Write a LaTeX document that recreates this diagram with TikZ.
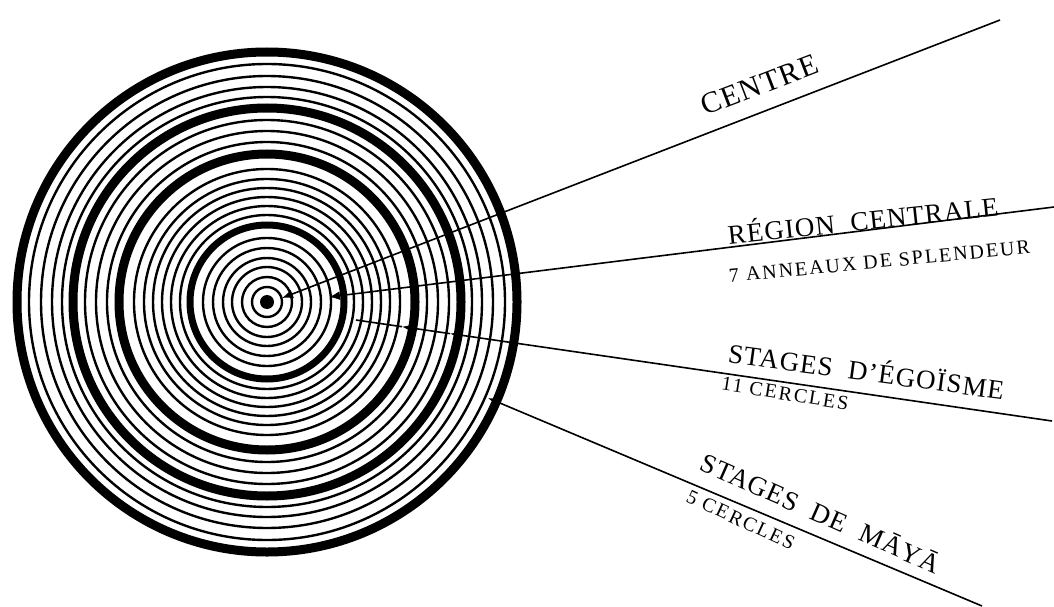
\documentclass[tikz,border=0pt]{standalone}
\usepackage{fontspec}
\setmainfont{Liberation Serif}
\usetikzlibrary{positioning,arrows.meta}
\tikzset{ring/.style={line width=2.4pt},heavy/.style={line width=9pt},lead/.style={line width=1.6pt},
 pointer/.style={lead,{Latex[length=11pt,width=9pt]}-},
 big/.style={font=\fontsize{#1}{#1}\selectfont\addfontfeatures{LetterSpace=4},inner sep=0pt,anchor=base},big/.default=27,
 small/.style={font=\fontsize{20}{20}\selectfont\addfontfeatures{LetterSpace=10},inner sep=0pt,anchor=base}}

\begin{document}
\begin{tikzpicture}[x=1pt,y=-1pt]
\useasboundingbox (0,0) rectangle (1054,607);
\coordinate (o) at (267,302);
% the rings
\foreach \r in {15,25,35,44,54,64,87,96,105,114,123,133,160,171,182,205,215,226,238}
  \draw[ring] (o) circle (\r);
\draw[heavy,line width=7pt] (o) circle (77);
\foreach \r in {148,194,250} \draw[heavy] (o) circle (\r);
\fill (o) circle (7);
% pointers
\coordinate (tc) at (282,298);\coordinate (ec) at (1000,20);
\coordinate (tr) at (329,297);\coordinate (er) at (1054,207);
\coordinate (e0) at (356,320);\coordinate (e1) at (402,326.7);\coordinate (e2) at (450,333.6);\coordinate (ee) at (1052,421);
\coordinate (tm) at (488,398);\coordinate (em) at (982,606);
\draw[pointer] (tc)--(ec);
\draw[pointer] (tr)--(er);
\draw[lead] (e0)--(e1);\draw[pointer] (e1)--(e2);\draw[pointer] (e2)--(ee);
\draw[pointer] (tm)--(em);
% labels
\node[big=30,rotate=21] (centre) at (763,94) {CENTRE};
\node[big,rotate=6] (region) at (864,230) {RÉGION\ \ CENTRALE};
\node[small,rotate=5.5] (anneaux) at (880,268) {7 ANNEAUX DE SPLENDEUR};
\node[big,rotate=-7.7] (egoisme) at (865,381) {STAGES\ \ D’ÉGOÏSME};
\node[small,rotate=-9] (ego11) at (784,400) {11 CERCLES};
\node[big,rotate=-23.8] (maya) at (817,522) {STAGES\ \ DE\ \ MĀYĀ};
\node[small,rotate=-25] (maya5) at (738,526) {5 CERCLES};
\end{tikzpicture}
\end{document}
